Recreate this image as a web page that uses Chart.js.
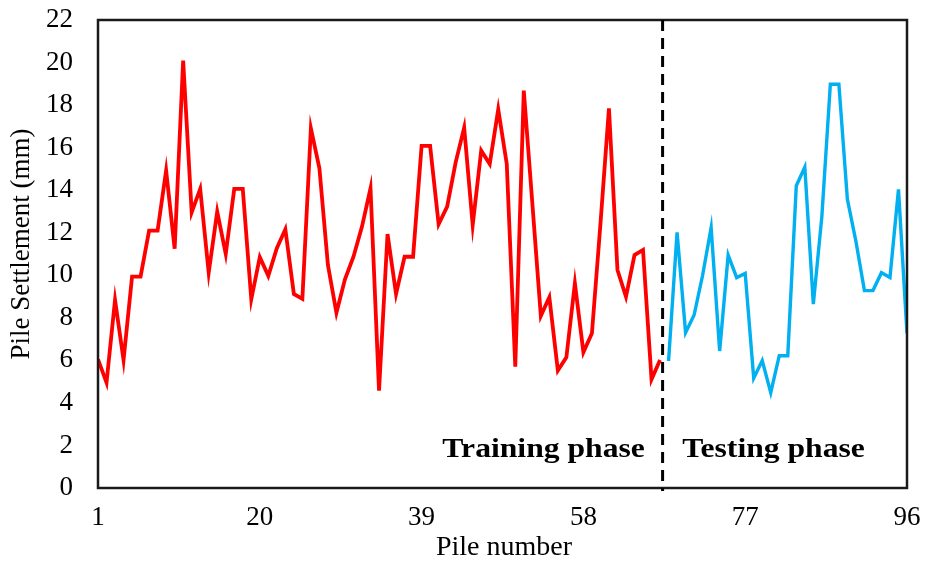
<!DOCTYPE html>
<html>
<head>
<meta charset="utf-8">
<title>Pile settlement</title>
<script src="https://cdn.jsdelivr.net/npm/chart.js@4.4.1/dist/chart.umd.min.js"></script>
<style>
  html, body { margin: 0; padding: 0; background: #fff; }
  #wrap { width: 935px; height: 562px; }
</style>
</head>
<body>
<div id="wrap"><canvas id="settlementChart" width="935" height="562"></canvas></div>
<script>
// pile numbers on the x axis
const xTicks = [1, 20, 39, 58, 77, 96];
const yTicks = [0, 2, 4, 6, 8, 10, 12, 14, 16, 18, 20, 22];

// piles 1..67 used for training
const trainingStart = 1;
const trainingSettlement = [
  6.05, 4.95, 8.84, 6.02, 9.94, 9.94, 12.1, 12.1, 14.92, 11.25,
  20.09, 12.96, 14.06, 10.12, 12.99, 11.0, 14.06, 14.06, 8.87, 10.85,
  9.97, 11.27, 12.16, 9.12, 8.89, 16.91, 15.03, 10.48, 8.24, 9.81,
  10.87, 12.29, 14.09, 4.58, 11.94, 9.12, 10.87, 10.87, 16.08, 16.08,
  12.4, 13.23, 15.31, 16.94, 12.36, 15.86, 15.23, 17.8, 15.23, 5.7,
  18.68, 13.4, 8.09, 8.97, 5.52, 6.14, 9.62, 6.38, 7.27, 12.4,
  17.85, 10.25, 8.99, 10.95, 11.19, 5.11, 6.02
];

// piles 68..96 used for testing
const testingStart = 68;
const testingSettlement = [
  5.97, 12.02, 7.3, 8.13, 10.0, 12.24, 6.44, 10.95, 9.89, 10.09,
  5.16, 5.99, 4.48, 6.22, 6.22, 14.21, 15.08, 8.64, 12.76, 18.98,
  18.98, 13.57, 11.6, 9.28, 9.28, 10.12, 9.9, 14.04, 7.27
];

// where the dashed divider sits between the two phases
const phaseSplit = 67.3;

const serif = "'Liberation Serif', 'Times New Roman', serif";

function toPoints(values, start) {
  return values.map((v, i) => ({ x: start + i, y: v }));
}

// frame, divider and the free text labels
const decorations = {
  id: 'decorations',
  afterDraw(chart) {
    const { ctx, chartArea: a, scales } = chart;
    const x = scales.x, y = scales.y;
    ctx.save();

    // plot border
    ctx.strokeStyle = '#1a1a1a';
    ctx.lineWidth = 2.5;
    ctx.strokeRect(a.left, a.top, a.right - a.left, a.bottom - a.top);

    // phase divider
    const xs = x.getPixelForValue(phaseSplit);
    ctx.setLineDash([11, 7]);
    ctx.lineWidth = 3;
    ctx.strokeStyle = '#000';
    ctx.beginPath();
    ctx.moveTo(xs, a.top);
    ctx.lineTo(xs, a.bottom + 3);
    ctx.stroke();
    ctx.setLineDash([]);

    // phase labels
    ctx.fillStyle = '#000';
    ctx.font = 'bold 28px ' + serif;
    ctx.textBaseline = 'alphabetic';
    ctx.textAlign = 'center';
    const ly = y.getPixelForValue(1.45);
    ctx.save();
    ctx.translate(xs - 119, ly);
    ctx.scale(1.13, 1);
    ctx.fillText('Training phase', 0, 0);
    ctx.restore();
    ctx.save();
    ctx.translate(xs + 111, ly);
    ctx.scale(1.13, 1);
    ctx.fillText('Testing phase', 0, 0);
    ctx.restore();

    // axis titles
    ctx.font = '28px ' + serif;
    ctx.textBaseline = 'middle';
    ctx.fillText('Pile number', 504, 548);

    ctx.save();
    ctx.font = '27px ' + serif;
    ctx.translate(22, 244);
    ctx.rotate(-Math.PI / 2);
    ctx.fillText('Pile Settlement (mm)', 0, 0);
    ctx.restore();

    ctx.restore();
  }
};

new Chart(document.getElementById('settlementChart'), {
  type: 'line',
  data: {
    datasets: [
      {
        label: 'Training',
        data: toPoints(trainingSettlement, trainingStart),
        borderColor: '#ff0000',
        borderWidth: 3.8,
        pointRadius: 0,
        tension: 0
      },
      {
        label: 'Testing',
        data: toPoints(testingSettlement, testingStart),
        borderColor: '#00b0f0',
        borderWidth: 3.4,
        pointRadius: 0,
        tension: 0
      }
    ]
  },
  options: {
    responsive: false,
    animation: false,
    devicePixelRatio: 1,
    layout: { padding: { left: 0, right: 28, top: 20, bottom: 0 } },
    plugins: {
      legend: { display: false },
      tooltip: { enabled: false }
    },
    scales: {
      x: {
        type: 'linear',
        min: 1,
        max: 96,
        afterBuildTicks: (scale) => { scale.ticks = xTicks.map(v => ({ value: v })); },
        afterFit: (scale) => {
          scale.height = 74;
          scale.paddingLeft = 0;
          scale.paddingRight = 0;
        },
        grid: { display: false, drawTicks: false },
        border: { display: false },
        ticks: {
          color: '#000',
          font: { family: serif, size: 27 },
          padding: 14,
          maxRotation: 0,
          autoSkip: false
        }
      },
      y: {
        min: 0,
        max: 22,
        afterBuildTicks: (scale) => { scale.ticks = yTicks.map(v => ({ value: v })); },
        afterFit: (scale) => {
          scale.width = 98;
          scale.paddingTop = 0;
          scale.paddingBottom = 0;
        },
        grid: { display: false, drawTicks: false },
        border: { display: false },
        ticks: {
          color: '#000',
          font: { family: serif, size: 27 },
          padding: 25
        }
      }
    }
  },
  plugins: [decorations]
});
</script>
</body>
</html>
